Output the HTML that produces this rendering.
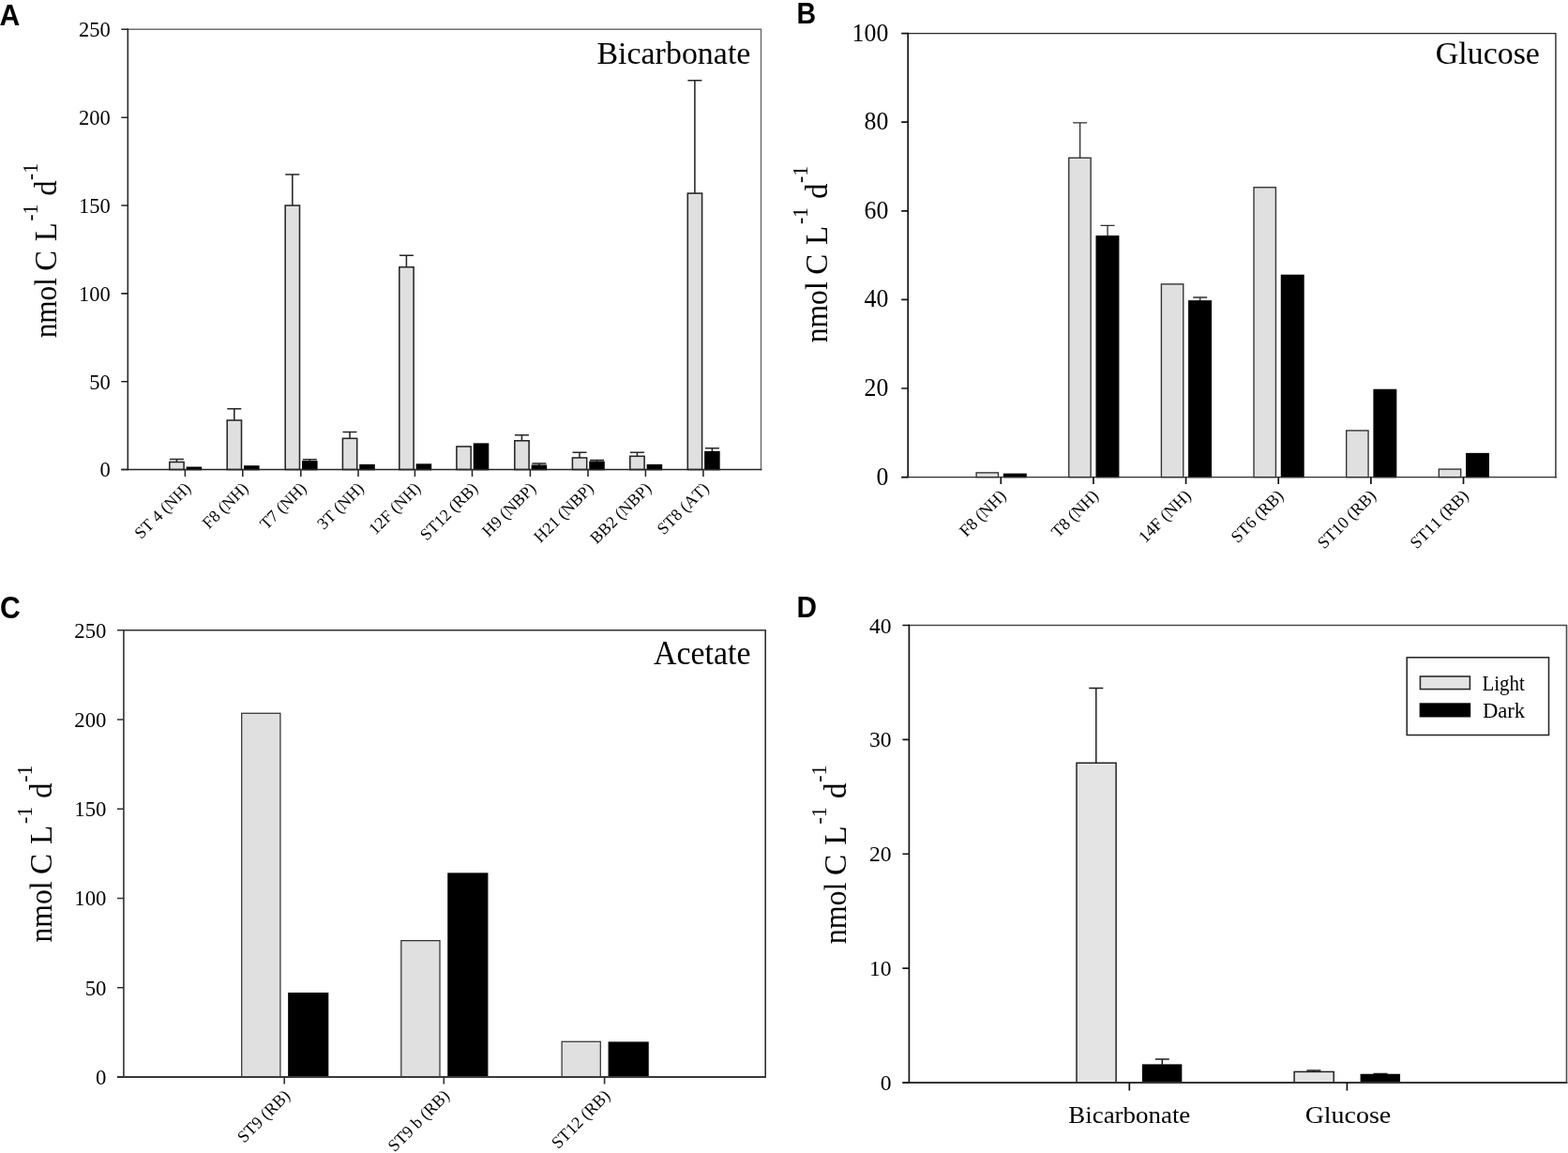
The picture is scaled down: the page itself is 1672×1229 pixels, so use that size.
<!DOCTYPE html>
<html lang="en">
<head>
<meta charset="utf-8">
<title>Figure: carbon uptake rates (Bicarbonate, Glucose, Acetate)</title>
<style>
html,body{margin:0;padding:0;background:#fff;}
body{width:1672px;height:1229px;overflow:hidden;}
svg{display:block;}
.s{font-family:"Liberation Serif",serif;fill:#000;font-kerning:none;}
.b{font-family:"Liberation Sans",sans-serif;font-weight:700;fill:#000;}
</style>
</head>
<body>
<svg width="1672" height="1229" viewBox="0 0 1672 1229">
<rect width="1672" height="1229" fill="#fff"/>
<g stroke="#262626" stroke-width="1.55" fill="none">
<path d="M188.4 492.48V489.48M180.9 489.48H195.9"/>
<rect x="180.8" y="492.48" width="15.3" height="8.07" fill="#e0e0e0"/>
<rect x="199.4" y="498.3" width="15" height="2.25" fill="#000" stroke="#000"/>
<path d="M249.8 447.99V435.79M242.3 435.79H257.3"/>
<rect x="242.2" y="447.99" width="15.3" height="52.56" fill="#e0e0e0"/>
<rect x="260.8" y="496.98" width="15" height="3.57" fill="#000" stroke="#000"/>
<path d="M311.8 219V185.96M304.3 185.96H319.3"/>
<rect x="304.2" y="219" width="15.3" height="281.55" fill="#e0e0e0"/>
<path d="M330.3 491.92V489.66M322.8 489.66H337.8"/>
<rect x="322.8" y="491.92" width="15" height="8.63" fill="#000" stroke="#000"/>
<path d="M373 467.33V460.57M365.5 460.57H380.5"/>
<rect x="365.4" y="467.33" width="15.3" height="33.22" fill="#e0e0e0"/>
<rect x="384" y="495.67" width="15" height="4.88" fill="#000" stroke="#000"/>
<path d="M433.4 284.7V272.31M425.9 272.31H440.9"/>
<rect x="425.8" y="284.7" width="15.3" height="215.85" fill="#e0e0e0"/>
<rect x="444.4" y="495.11" width="15" height="5.44" fill="#000" stroke="#000"/>
<rect x="486.9" y="475.96" width="15.3" height="24.59" fill="#e0e0e0"/>
<rect x="505.5" y="473.15" width="15" height="27.4" fill="#000" stroke="#000"/>
<path d="M556.4 469.77V463.76M548.9 463.76H563.9"/>
<rect x="548.8" y="469.77" width="15.3" height="30.78" fill="#e0e0e0"/>
<path d="M574.9 496.23V493.98M567.4 493.98H582.4"/>
<rect x="567.4" y="496.23" width="15" height="4.32" fill="#000" stroke="#000"/>
<path d="M618 487.97V482.34M610.5 482.34H625.5"/>
<rect x="610.4" y="487.97" width="15.3" height="12.58" fill="#e0e0e0"/>
<path d="M636.5 492.48V490.6M629 490.6H644"/>
<rect x="629" y="492.48" width="15" height="8.07" fill="#000" stroke="#000"/>
<path d="M679.4 486.28V482.16M671.9 482.16H686.9"/>
<rect x="671.8" y="486.28" width="15.3" height="14.27" fill="#e0e0e0"/>
<rect x="690.4" y="495.67" width="15" height="4.88" fill="#000" stroke="#000"/>
<path d="M740.9 206.05V85.73M733.4 85.73H748.4"/>
<rect x="733.3" y="206.05" width="15.3" height="294.5" fill="#e0e0e0"/>
<path d="M759.4 481.59V477.65M751.9 477.65H766.9"/>
<rect x="751.9" y="481.59" width="15" height="18.96" fill="#000" stroke="#000"/>
</g>
<g stroke="#262626" stroke-width="1.55" fill="none">
<path d="M135.53 31.3H811.5V501.32" stroke="#6e6e6e" stroke-width="1.5"/>
<path d="M136.3 30.53V501.32"/>
<path d="M129.3 500.55H812.27" stroke="#262626" stroke-width="1.55"/>
<path d="M129.3 500.55H136.3M129.3 406.7H136.3M129.3 312.85H136.3M129.3 219H136.3M129.3 125.15H136.3M129.3 31.3H136.3"/>
<path d="M197.4 500.55V508.05M258.8 500.55V508.05M320.8 500.55V508.05M382 500.55V508.05M442.4 500.55V508.05M503.5 500.55V508.05M565.4 500.55V508.05M627 500.55V508.05M688.4 500.55V508.05M749.9 500.55V508.05"/>
</g>
<text transform="translate(117.8 508.45) scale(1.0 1)" font-size="22.5" text-anchor="end" class="s">0</text>
<text transform="translate(117.8 414.6) scale(1.0 1)" font-size="22.5" text-anchor="end" class="s">50</text>
<text transform="translate(117.8 320.75) scale(1.0 1)" font-size="22.5" text-anchor="end" class="s">100</text>
<text transform="translate(117.8 226.9) scale(1.0 1)" font-size="22.5" text-anchor="end" class="s">150</text>
<text transform="translate(117.8 133.05) scale(1.0 1)" font-size="22.5" text-anchor="end" class="s">200</text>
<text transform="translate(117.8 39.2) scale(1.0 1)" font-size="22.5" text-anchor="end" class="s">250</text>
<text transform="translate(204.4 521.55) rotate(-45)" font-size="17.8" text-anchor="end" class="s">ST 4 (NH)</text>
<text transform="translate(265.8 521.55) rotate(-45)" font-size="17.8" text-anchor="end" class="s">F8 (NH)</text>
<text transform="translate(327.8 521.55) rotate(-45)" font-size="17.8" text-anchor="end" class="s">T7 (NH)</text>
<text transform="translate(389 521.55) rotate(-45)" font-size="17.8" text-anchor="end" class="s">3T (NH)</text>
<text transform="translate(449.4 521.55) rotate(-45)" font-size="17.8" text-anchor="end" class="s">12F (NH)</text>
<text transform="translate(510.5 521.55) rotate(-45)" font-size="17.8" text-anchor="end" class="s">ST12 (RB)</text>
<text transform="translate(572.4 521.55) rotate(-45)" font-size="17.8" text-anchor="end" class="s">H9 (NBP)</text>
<text transform="translate(634 521.55) rotate(-45)" font-size="17.8" text-anchor="end" class="s">H21 (NBP)</text>
<text transform="translate(695.4 521.55) rotate(-45)" font-size="17.8" text-anchor="end" class="s">BB2 (NBP)</text>
<text transform="translate(756.9 521.55) rotate(-45)" font-size="17.8" text-anchor="end" class="s">ST8 (AT)</text>
<text transform="translate(60.2 360.3) rotate(-90) scale(1 1.03)" font-size="32.6" class="s"><tspan x="0" y="0" textLength="64.2" lengthAdjust="spacingAndGlyphs">nmol</tspan><tspan x="71.6" y="0">C</tspan><tspan x="103" y="0">L</tspan><tspan x="124.7" y="-20.1" font-size="22.3" textLength="17.9" lengthAdjust="spacingAndGlyphs">-1</tspan><tspan x="151.5" y="0">d</tspan><tspan x="168.4" y="-20.1" font-size="22.3" textLength="17.9" lengthAdjust="spacingAndGlyphs">-1</tspan></text>
<text transform="translate(800.4 67.6) scale(0.99 1)" font-size="34.3" text-anchor="end" class="s">Bicarbonate</text>
<text transform="translate(-0.5 27.3) scale(0.965 1)" font-size="31.2" class="b">A</text>
<g stroke="#303030" stroke-width="1.35" fill="none">
<rect x="1041.1" y="503.87" width="23.4" height="4.73" fill="#e0e0e0"/>
<rect x="1070.5" y="505.29" width="23.6" height="3.31" fill="#000" stroke="#000"/>
<path d="M1151.64 168.28V130.91M1144.14 130.91H1159.14"/>
<rect x="1139.74" y="168.28" width="23.4" height="340.32" fill="#e0e0e0"/>
<path d="M1181.04 251.76V240.41M1173.54 240.41H1188.54"/>
<rect x="1169.14" y="251.76" width="23.6" height="256.84" fill="#000" stroke="#000"/>
<rect x="1238.38" y="302.85" width="23.4" height="205.75" fill="#e0e0e0"/>
<path d="M1279.68 320.82V317.03M1272.18 317.03H1287.18"/>
<rect x="1267.78" y="320.82" width="23.6" height="187.78" fill="#000" stroke="#000"/>
<rect x="1337.02" y="199.73" width="23.4" height="308.87" fill="#e0e0e0"/>
<rect x="1366.42" y="293.38" width="23.6" height="215.22" fill="#000" stroke="#000"/>
<rect x="1435.66" y="458.94" width="23.4" height="49.67" fill="#e0e0e0"/>
<rect x="1465.06" y="415.42" width="23.6" height="93.18" fill="#000" stroke="#000"/>
<rect x="1534.3" y="500.09" width="23.4" height="8.51" fill="#e0e0e0"/>
<rect x="1563.7" y="483.53" width="23.6" height="25.07" fill="#000" stroke="#000"/>
</g>
<g stroke="#141414" stroke-width="1.7" fill="none">
<path d="M967.35 35.6H1658.9V509.45" stroke="#2a2a2a" stroke-width="1.4"/>
<path d="M968.2 34.75V509.3"/>
<path d="M961.2 508.6H1659.75" stroke="#2e2e2e" stroke-width="1.4"/>
<path d="M961.2 508.6H968.2M961.2 414H968.2M961.2 319.4H968.2M961.2 224.8H968.2M961.2 130.2H968.2M961.2 35.6H968.2"/>
<path d="M1067.3 508.6V516.1M1165.94 508.6V516.1M1264.58 508.6V516.1M1363.22 508.6V516.1M1461.86 508.6V516.1M1560.5 508.6V516.1"/>
</g>
<text transform="translate(947.3 516.5) scale(0.96 1)" font-size="26.9" text-anchor="end" class="s">0</text>
<text transform="translate(947.3 421.9) scale(0.96 1)" font-size="26.9" text-anchor="end" class="s">20</text>
<text transform="translate(947.3 327.3) scale(0.96 1)" font-size="26.9" text-anchor="end" class="s">40</text>
<text transform="translate(947.3 232.7) scale(0.96 1)" font-size="26.9" text-anchor="end" class="s">60</text>
<text transform="translate(947.3 138.1) scale(0.96 1)" font-size="26.9" text-anchor="end" class="s">80</text>
<text transform="translate(947.3 43.5) scale(0.96 1)" font-size="26.9" text-anchor="end" class="s">100</text>
<text transform="translate(1073.7 529.6) rotate(-45)" font-size="18.01" text-anchor="end" class="s">F8 (NH)</text>
<text transform="translate(1172.34 529.6) rotate(-45)" font-size="18.01" text-anchor="end" class="s">T8 (NH)</text>
<text transform="translate(1270.98 529.6) rotate(-45)" font-size="18.01" text-anchor="end" class="s">14F (NH)</text>
<text transform="translate(1369.62 529.6) rotate(-45)" font-size="18.01" text-anchor="end" class="s">ST6 (RB)</text>
<text transform="translate(1468.26 529.6) rotate(-45)" font-size="18.01" text-anchor="end" class="s">ST10 (RB)</text>
<text transform="translate(1566.9 529.6) rotate(-45)" font-size="18.01" text-anchor="end" class="s">ST11 (RB)</text>
<text transform="translate(882.1 365.3) rotate(-90) scale(1 1.03)" font-size="32.99" class="s"><tspan x="0" y="0" textLength="64.97" lengthAdjust="spacingAndGlyphs">nmol</tspan><tspan x="72.46" y="0">C</tspan><tspan x="104.24" y="0">L</tspan><tspan x="126.2" y="-20.34" font-size="22.57" textLength="18.11" lengthAdjust="spacingAndGlyphs">-1</tspan><tspan x="153.32" y="0">d</tspan><tspan x="170.42" y="-20.34" font-size="22.57" textLength="18.11" lengthAdjust="spacingAndGlyphs">-1</tspan></text>
<text transform="translate(1641.9 67.7) scale(0.98 1)" font-size="34.6" text-anchor="end" class="s">Glucose</text>
<text transform="translate(849.6 24.5) scale(0.91 1)" font-size="31.4" class="b">B</text>
<g stroke="#333" stroke-width="1.25" fill="none">
<rect x="257.7" y="760.29" width="41.2" height="387.71" fill="#e0e0e0"/>
<rect x="307.8" y="1058.65" width="41.9" height="89.35" fill="#000" stroke="#000"/>
<rect x="427.8" y="1002.63" width="41.2" height="145.37" fill="#e0e0e0"/>
<rect x="477.9" y="931" width="41.9" height="217" fill="#000" stroke="#000"/>
<rect x="599.1" y="1110.28" width="41.2" height="37.72" fill="#e0e0e0"/>
<rect x="649.2" y="1111.04" width="41.9" height="36.96" fill="#000" stroke="#000"/>
</g>
<g stroke="#303030" stroke-width="1.6" fill="none">
<path d="M131.1 671.7H816.2V1148.8" stroke="#303030" stroke-width="1.6"/>
<path d="M131.9 670.9V1148.95"/>
<path d="M124.9 1148H817" stroke="#3a3a3a" stroke-width="1.9"/>
<path d="M124.9 1148H131.9M124.9 1052.74H131.9M124.9 957.48H131.9M124.9 862.22H131.9M124.9 766.96H131.9M124.9 671.7H131.9"/>
<path d="M303.2 1148V1155.5M473.3 1148V1155.5M644.6 1148V1155.5"/>
</g>
<text transform="translate(113.4 1156) scale(0.975 1)" font-size="23.3" text-anchor="end" class="s">0</text>
<text transform="translate(113.4 1060.74) scale(0.975 1)" font-size="23.3" text-anchor="end" class="s">50</text>
<text transform="translate(113.4 965.48) scale(0.975 1)" font-size="23.3" text-anchor="end" class="s">100</text>
<text transform="translate(113.4 870.22) scale(0.975 1)" font-size="23.3" text-anchor="end" class="s">150</text>
<text transform="translate(113.4 774.96) scale(0.975 1)" font-size="23.3" text-anchor="end" class="s">200</text>
<text transform="translate(113.4 679.7) scale(0.975 1)" font-size="23.3" text-anchor="end" class="s">250</text>
<text transform="translate(310.2 1169) rotate(-45)" font-size="18.05" text-anchor="end" class="s">ST9 (RB)</text>
<text transform="translate(480.3 1169) rotate(-45)" font-size="18.05" text-anchor="end" class="s">ST9 b (RB)</text>
<text transform="translate(651.6 1169) rotate(-45)" font-size="18.05" text-anchor="end" class="s">ST12 (RB)</text>
<text transform="translate(54.8 1004.5) rotate(-90) scale(1 1.03)" font-size="33.06" class="s"><tspan x="0" y="0" textLength="65.1" lengthAdjust="spacingAndGlyphs">nmol</tspan><tspan x="72.6" y="0">C</tspan><tspan x="104.44" y="0">L</tspan><tspan x="126.45" y="-20.38" font-size="22.61" textLength="18.15" lengthAdjust="spacingAndGlyphs">-1</tspan><tspan x="153.62" y="0">d</tspan><tspan x="170.76" y="-20.38" font-size="22.61" textLength="18.15" lengthAdjust="spacingAndGlyphs">-1</tspan></text>
<text transform="translate(800.5 708.4) scale(0.965 1)" font-size="35.1" text-anchor="end" class="s">Acetate</text>
<text transform="translate(0.1 658.55) scale(0.915 1)" font-size="33" class="b">C</text>
<g stroke="#1c1c1c" stroke-width="1.45" fill="none">
<path d="M1168.8 813.24V733.53M1161.3 733.53H1176.3"/>
<rect x="1148" y="813.24" width="42.1" height="340.76" fill="#e4e4e4"/>
<path d="M1239.3 1135.11V1129.02M1231.8 1129.02H1246.8"/>
<rect x="1218.6" y="1135.11" width="41" height="18.89" fill="#000" stroke="#000"/>
<path d="M1400.9 1142.42V1141.08M1393.4 1141.08H1408.4"/>
<rect x="1380.1" y="1142.42" width="42.1" height="11.58" fill="#e4e4e4"/>
<path d="M1472 1145.47V1144.49M1464.5 1144.49H1479.5"/>
<rect x="1451.3" y="1145.47" width="41" height="8.53" fill="#000" stroke="#000"/>
</g>
<g stroke="#141414" stroke-width="1.7" fill="none">
<path d="M968.55 666.5H1670.5V1154.85" stroke="#4a4a4a" stroke-width="1.6"/>
<path d="M969.4 665.65V1155"/>
<path d="M962.4 1154H1671.35" stroke="#363636" stroke-width="2.0"/>
<path d="M962.4 1154H969.4M962.4 1032.12H969.4M962.4 910.25H969.4M962.4 788.38H969.4M962.4 666.5H969.4"/>
<path d="M1204.3 1154V1162.6M1436.4 1154V1162.6"/>
</g>
<text transform="translate(950.6 1162.1) scale(0.98 1)" font-size="24.1" text-anchor="end" class="s">0</text>
<text transform="translate(950.6 1040.22) scale(0.98 1)" font-size="24.1" text-anchor="end" class="s">10</text>
<text transform="translate(950.6 918.35) scale(0.98 1)" font-size="24.1" text-anchor="end" class="s">20</text>
<text transform="translate(950.6 796.48) scale(0.98 1)" font-size="24.1" text-anchor="end" class="s">30</text>
<text transform="translate(950.6 674.6) scale(0.98 1)" font-size="24.1" text-anchor="end" class="s">40</text>
<text x="1204.3" y="1197.4" font-size="26" text-anchor="middle" textLength="130" lengthAdjust="spacingAndGlyphs" class="s">Bicarbonate</text>
<text x="1437.4" y="1197.4" font-size="26" text-anchor="middle" textLength="91.5" lengthAdjust="spacingAndGlyphs" class="s">Glucose</text>
<text transform="translate(901.9 1006.3) rotate(-90) scale(1 1.03)" font-size="33.38" class="s"><tspan x="0" y="0" textLength="65.74" lengthAdjust="spacingAndGlyphs">nmol</tspan><tspan x="73.32" y="0">C</tspan><tspan x="105.47" y="0">L</tspan><tspan x="127.69" y="-20.58" font-size="22.84" textLength="18.33" lengthAdjust="spacingAndGlyphs">-1</tspan><tspan x="155.14" y="0">d</tspan><tspan x="172.44" y="-20.58" font-size="22.84" textLength="18.33" lengthAdjust="spacingAndGlyphs">-1</tspan></text>
<text transform="translate(849.6 658.2) scale(0.95 1)" font-size="31.4" class="b">D</text>
<g stroke="#262626" stroke-width="1.55" fill="none">
<rect x="1500.2" y="700.8" width="151.3" height="82.7" fill="#fff"/>
<rect x="1514.4" y="721" width="53" height="13.6" fill="#e4e4e4"/>
<rect x="1514.4" y="750.1" width="53" height="13.6" fill="#000" stroke="#000"/>
</g>
<text x="1580.5" y="735.5" font-size="23.5" textLength="45.3" lengthAdjust="spacingAndGlyphs" class="s">Light</text>
<text x="1580.9" y="764.7" font-size="23.5" textLength="45.3" lengthAdjust="spacingAndGlyphs" class="s">Dark</text>
</svg>
</body>
</html>
